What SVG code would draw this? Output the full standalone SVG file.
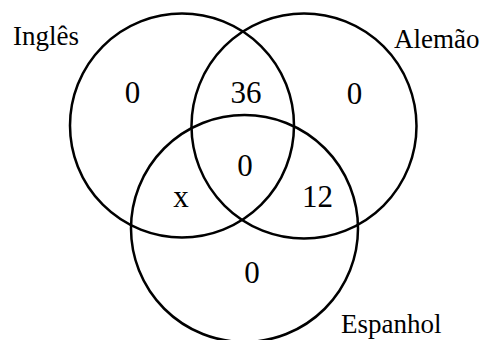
<svg xmlns="http://www.w3.org/2000/svg" width="482" height="340" viewBox="0 0 482 340">
<style>
.c{fill:none;stroke:#000;stroke-width:2.5}
.l{font-family:"Liberation Serif",serif;font-size:27px;fill:#000}
.n{font-family:"Liberation Serif",serif;font-size:31px;fill:#000;text-anchor:middle}
</style>
<rect width="482" height="340" fill="#fff"/>
<g id="ingles">
<circle class="c" cx="182" cy="125.5" r="112"/>
<text class="l" x="13" y="45">Inglês</text>
</g>
<g id="alemao">
<circle class="c" cx="304" cy="126" r="112.5"/>
<text class="l" x="394" y="48">Alemão</text>
</g>
<g id="espanhol">
<circle class="c" cx="244.5" cy="228.5" r="113.5"/>
<text class="l" x="341" y="333">Espanhol</text>
</g>
<g id="values">
<text class="n" x="132.5" y="103">0</text>
<text class="n" x="246" y="103">36</text>
<text class="n" x="354.5" y="104">0</text>
<text class="n" x="245" y="176">0</text>
<text class="n" x="181" y="207">x</text>
<text class="n" x="317.5" y="207">12</text>
<text class="n" x="252" y="283">0</text>
</g>
</svg>
